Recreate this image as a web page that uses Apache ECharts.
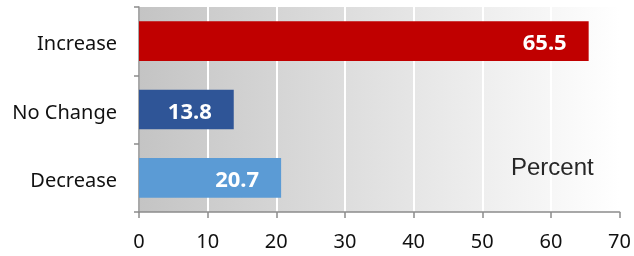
<!DOCTYPE html>
<html><head><meta charset="utf-8">
<script src="https://cdn.jsdelivr.net/npm/echarts@6/dist/echarts.min.js"></script>
<style>html,body{margin:0;padding:0;background:#fff}#c{width:634px;height:256px}</style>
</head><body><div id="c"></div>
<script>
var categories = ['Decrease', 'No Change', 'Increase'];
var values = [20.7, 13.8, 65.5];
var barColors = ['#5B9BD5', '#2F5597', '#C00000'];
var xTicks = [0, 10, 20, 30, 40, 50, 60, 70];
var unitLabel = 'Percent';

var chart = echarts.init(document.getElementById('c'), null, {renderer: 'canvas'});
chart.setOption({
  animation: false,
  grid: {
    left: 139, right: 12, top: 7, bottom: 44, show: true, borderWidth: 0,
    backgroundColor: new echarts.graphic.LinearGradient(0, 0, 1, 0, [
      {offset: 0, color: '#c4c4c4'}, {offset: 1, color: '#ffffff'}
    ])
  },
  xAxis: {
    type: 'value', min: xTicks[0], max: xTicks[xTicks.length - 1], interval: 10,
    axisLine: {show: true, lineStyle: {color: '#8c8c8c', width: 1.5}},
    axisTick: {show: true, length: 6, lineStyle: {color: '#8c8c8c', width: 1.5}},
    splitLine: {show: true, lineStyle: {color: '#ffffff', width: 2}},
    axisLabel: {color: '#111111', fontSize: 20, fontFamily: 'Noto Sans', margin: 20}
  },
  yAxis: {
    type: 'category', data: categories,
    axisLine: {show: true, lineStyle: {color: '#8c8c8c', width: 1.5}},
    axisTick: {show: true, length: 5, lineStyle: {color: '#8c8c8c', width: 1.5}},
    axisLabel: {
      margin: 22,
      formatter: function (v) { return '{a|' + v + '}'; },
      rich: {a: {color: '#111111', fontSize: 20, fontFamily: 'Noto Sans', padding: [7, 0, 0, 0]}}
    },
    splitLine: {show: false}
  },
  series: [{
    type: 'bar', barWidth: '58%',
    data: values.map(function (v, i) { return {value: v, itemStyle: {color: barColors[i]}}; }),
    label: {
      show: true, position: 'insideRight', distance: 22, offset: [0, 3],
      color: '#ffffff', fontWeight: 'bold', fontSize: 22, fontFamily: 'Noto Sans',
      formatter: function (p) { return p.value.toFixed(1); }
    }
  }],
  graphic: [{
    type: 'text', left: 511, top: 156, z: 100,
    style: {text: unitLabel, fontSize: 24, fontFamily: 'Liberation Sans', fill: '#262626'}
  }]
});
</script></body></html>
